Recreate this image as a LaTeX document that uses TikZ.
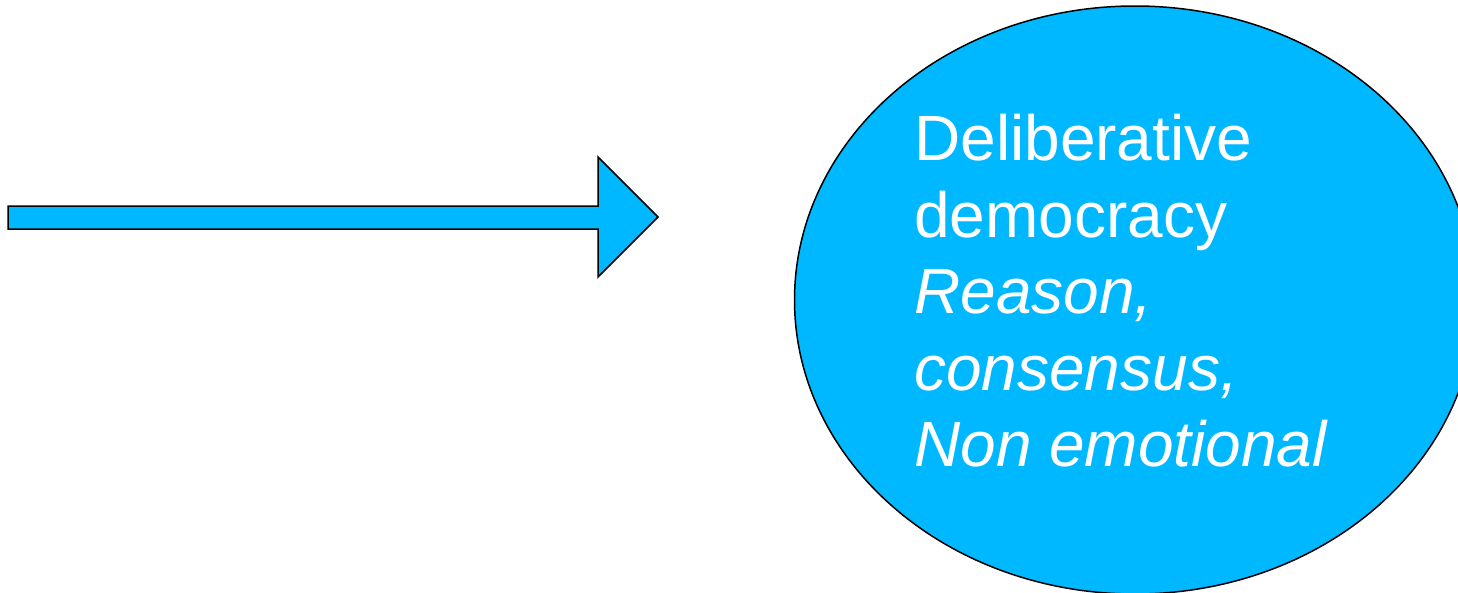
\documentclass[tikz,border=0pt]{standalone}
\usepackage{fontspec}
\setmainfont{Liberation Sans}
\definecolor{skyfill}{RGB}{0,184,255}
\tikzset{
  shapefill/.style={fill=skyfill, draw=black, line width=1.5pt, line join=miter},
  ovaltext/.style={text=white, font=\fontsize{64}{76.5}\selectfont, align=left, inner sep=0pt, anchor=north west}
}
\begin{document}
\begin{tikzpicture}[x=1pt,y=-1pt]
\useasboundingbox (0,0) rectangle (1458,592);
\fill[white] (0,0) rectangle (1458,592);
% block arrow
\draw[shapefill] (8,206) -- (598,206) -- (598,157) -- (658,217) -- (598,277) -- (598,229) -- (8,229) -- cycle;
% ellipse (clipped by the page)
\begin{scope}
\clip (0,0) rectangle (1458,592);
\draw[shapefill] (1135,300) ellipse [x radius=340.5, y radius=294];
\end{scope}
\node[ovaltext] (txt) at (914,114) {Deliberative\\democracy\\\itshape Reason,\\\itshape consensus,\\\itshape Non emotional};
\end{tikzpicture}
\end{document}
